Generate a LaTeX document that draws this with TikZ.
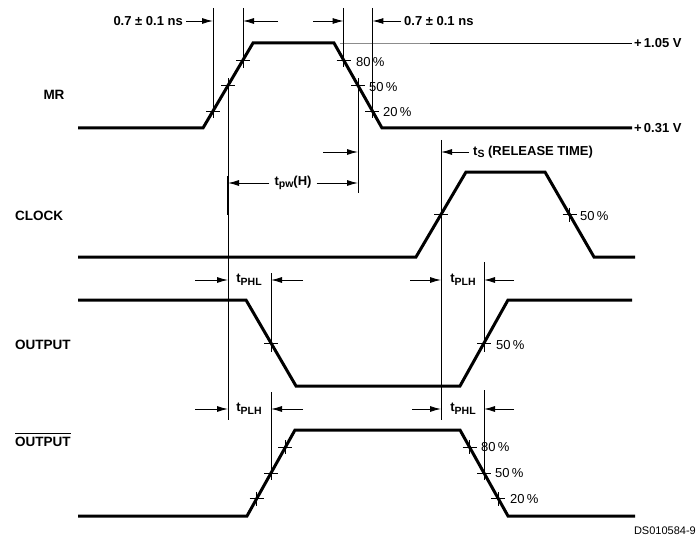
\documentclass[tikz,border=0pt]{standalone}
\usepackage{fontspec}
\setmainfont{Liberation Sans}
\usetikzlibrary{arrows.meta}
\newcommand{\sbs}[1]{\raisebox{-2.6pt}{\fontsize{10.5}{10}\selectfont #1}}
\tikzset{
  wave/.style={line width=3pt, line join=miter, line cap=butt},
  guide/.style={line width=0.9pt},
  dimarrow/.style={line width=0.9pt, -{Latex[length=11pt,width=6pt]}},
  lab/.style={font=\fontsize{13.5}{15}\selectfont\bfseries, inner sep=0pt},
  txt/.style={font=\fontsize{13}{15}\selectfont\bfseries, inner sep=0pt},
  pct/.style={font=\fontsize{13}{15}\selectfont, inner sep=0pt, anchor=west},
  tickmark/.pic={\draw[line width=0.9pt] (-7,0)--(7,0) (0,-7)--(0,7);}
}
\begin{document}
\begin{tikzpicture}[x=1pt,y=-1pt]
\useasboundingbox (0,0) rectangle (697,543);

% ---------- signal names ----------
\node[lab] (nMR) at (54,95) {MR};
\node[lab, anchor=west] (nCLK) at (15,216) {CLOCK};
\node[lab, anchor=west] (nOUT) at (15,345) {OUTPUT};
\node[lab, anchor=west] (nOUTB) at (15,440) {\rlap{\rule[12pt]{56pt}{0.9pt}}OUTPUT};

% ---------- MR ----------
\coordinate (m0) at (78,128); \coordinate (m1) at (203,128);
\coordinate (m2) at (253,43); \coordinate (m3) at (334,43);
\coordinate (m4) at (382,128); \coordinate (m5) at (632,128);
\draw[wave] (m0)--(m1)--(m2)--(m3)--(m4)--(m5);
\draw[line width=0.8pt, black!45] (340,43)--(430,43);
\draw[line width=0.8pt] (430,43)--(632,43);
\node[txt, anchor=west] (v105) at (634,43) {+\,1.05 V};
\node[txt, anchor=west] (v031) at (634,128) {+\,0.31 V};

\pic at (213,111) {tickmark};
\pic at (228,85.5) {tickmark};
\pic at (243,60) {tickmark};
\pic at (343.6,60) {tickmark};
\pic at (358,85.5) {tickmark};
\pic at (372.4,111) {tickmark};
\node[pct] (p80a) at (356,62) {80\,\%};
\node[pct] (p50a) at (369,87) {50\,\%};
\node[pct] (p20a) at (383,112) {20\,\%};

% guide lines
\draw[guide] (213,8)--(213,118);
\draw[guide] (243,8)--(243,68);
\draw[guide] (343.6,8)--(343.6,66);
\draw[guide] (372.4,8)--(372.4,118);
\draw[guide] (358,86)--(358,193);
\draw[guide] (228,86)--(228,420);
\draw[line width=1.8pt] (228,176)--(228,215);
\draw[guide] (441,140)--(441,420);

% top dimension arrows
\node[txt, anchor=east] (w1) at (183,21) {0.7 ± 0.1 ns};
\draw[dimarrow] (w1.east) ++(3,0) -- (213,21);
\draw[dimarrow] (278,21) -- (243,21);
\draw[dimarrow] (313,21) -- (343.6,21);
\node[txt, anchor=west] (w2) at (404,21) {0.7 ± 0.1 ns};
\draw[dimarrow] (w2.west) ++(-3,0) -- (372.4,21);

% setup / release time
\draw[dimarrow] (323,152) -- (358,152);
\node[txt, anchor=west] (ts) at (473,152) {t\sbs{S} (RELEASE TIME)};
\draw[dimarrow] (ts.west) ++(-4,0) -- (441,152);

% pulse width
\node[txt] (tpw) at (293,183) {t\sbs{pw}(H)};
\draw[dimarrow] (tpw.west) ++(-5,0) -- (228,183);
\draw[dimarrow] (tpw.east) ++(5,0) -- (358,183);

% ---------- CLOCK ----------
\coordinate (c0) at (78,257); \coordinate (c1) at (416,257);
\coordinate (c2) at (466,172); \coordinate (c3) at (545,172);
\coordinate (c4) at (594,257); \coordinate (c5) at (635,257);
\draw[wave] (c0)--(c1)--(c2)--(c3)--(c4)--(c5);
\pic at (441,214.5) {tickmark};
\pic at (569.5,214.5) {tickmark};
\node[pct] (p50c) at (580,216) {50\,\%};

% ---------- OUTPUT ----------
\coordinate (o0) at (78,300); \coordinate (o1) at (246,300);
\coordinate (o2) at (296,386); \coordinate (o3) at (460,386);
\coordinate (o4) at (508,300); \coordinate (o5) at (632,300);
\draw[wave] (o0)--(o1)--(o2)--(o3)--(o4)--(o5);
\pic at (271,343) {tickmark};
\pic at (484,343) {tickmark};
\node[pct] (p50o) at (496,345) {50\,\%};
\draw[guide] (271,273)--(271,352);
\draw[guide] (484,262)--(484,352);

\node[txt] (tphl1) at (249,280) {t\sbs{PHL}};
\draw[dimarrow] (195,280) -- (228,280);
\draw[dimarrow] (303,280) -- (271,280);
\node[txt] (tplh1) at (463,280) {t\sbs{PLH}};
\draw[dimarrow] (410,280) -- (441,280);
\draw[dimarrow] (514,280) -- (484,280);

% ---------- OUTPUT bar ----------
\coordinate (b0) at (78,516); \coordinate (b1) at (247,516);
\coordinate (b2) at (295,430); \coordinate (b3) at (460,430);
\coordinate (b4) at (508,516); \coordinate (b5) at (635,516);
\draw[wave] (b0)--(b1)--(b2)--(b3)--(b4)--(b5);
\pic at (256.6,498.8) {tickmark};
\pic at (271,473) {tickmark};
\pic at (285.4,447.2) {tickmark};
\pic at (469.6,447.2) {tickmark};
\pic at (484,473) {tickmark};
\pic at (498.4,498.8) {tickmark};
\node[pct] (p80b) at (481,447) {80\,\%};
\node[pct] (p50b) at (495,473) {50\,\%};
\node[pct] (p20b) at (510,499) {20\,\%};
\draw[guide] (271,392)--(271,473);
\draw[guide] (484,390)--(484,473);

\node[txt] (tplh2) at (249,409) {t\sbs{PLH}};
\draw[dimarrow] (195,409) -- (228,409);
\draw[dimarrow] (303,409) -- (271,409);
\node[txt] (tphl2) at (463,409) {t\sbs{PHL}};
\draw[dimarrow] (412,409) -- (441,409);
\draw[dimarrow] (514,409) -- (484,409);

\node[anchor=east, inner sep=0pt, font=\fontsize{11}{12}\selectfont] (ds) at (696,531) {DS010584-9};
\end{tikzpicture}
\end{document}
